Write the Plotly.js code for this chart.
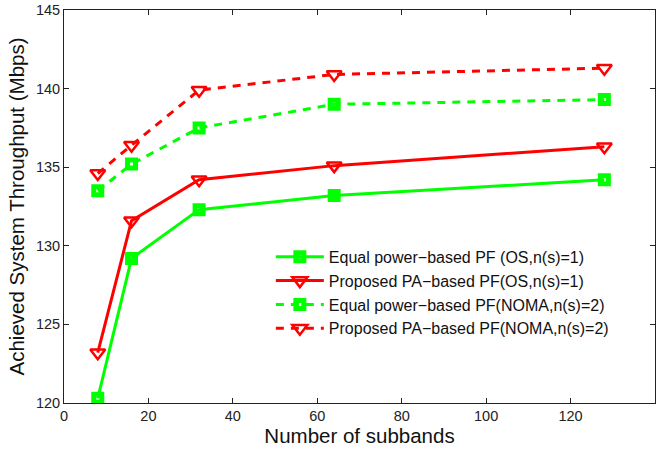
<!DOCTYPE html>
<html>
<head>
<meta charset="utf-8">
<script src="https://cdn.plot.ly/plotly-3.0.1.min.js"></script>
<style>html,body{margin:0;padding:0;background:#fff;}#chart{width:665px;height:451px;}</style>
</head>
<body>
<div id="chart"></div>
<script>
const subbands = [8, 16, 32, 64, 128];
const equalOS = [120.3, 129.2, 132.3, 133.2, 134.2];
const proposedOS = [123.2, 131.6, 134.2, 135.1, 136.3];
const equalNOMA = [133.5, 135.2, 137.5, 139.0, 139.3];
const proposedNOMA = [134.6, 136.4, 139.9, 140.9, 141.3];
const seriesNames = [
  'Equal power\u2212based PF (OS,n(s)=1)',
  'Proposed PA\u2212based PF(OS,n(s)=1)',
  'Equal power\u2212based PF(NOMA,n(s)=2)',
  'Proposed PA\u2212based PF(NOMA,n(s)=2)'
];
const xTicks = [0, 20, 40, 60, 80, 100, 120, 140];
const yTicks = [120, 125, 130, 135, 140, 145];

const green = '#00ff00', red = '#ff0000';
const sqMarker = {symbol: 'square-open', size: 8, color: green, line: {width: 5, color: green}};
const triMarker = {symbol: 'triangle-down-open', size: 13, color: red, line: {width: 2.5, color: red}};

const traces = [
  {x: subbands, y: equalOS, name: seriesNames[0], mode: 'lines+markers', line: {color: green, width: 3}, marker: sqMarker},
  {x: subbands, y: proposedOS, name: seriesNames[1], mode: 'lines+markers', line: {color: red, width: 3}, marker: triMarker},
  {x: subbands, y: equalNOMA, name: seriesNames[2], mode: 'lines+markers', line: {color: green, width: 3, dash: '8px,7px'}, marker: sqMarker},
  {x: subbands, y: proposedNOMA, name: seriesNames[3], mode: 'lines+markers', line: {color: red, width: 3, dash: '8px,7px'}, marker: triMarker}
];

const axisCommon = {
  showgrid: false, zeroline: false, showline: true, linecolor: '#222', linewidth: 1,
  mirror: 'ticks', ticks: 'inside', ticklen: 5, tickcolor: '#222', tickwidth: 1,
  tickfont: {family: 'Liberation Sans, Arial, sans-serif', size: 14.5, color: '#222'}
};

const layout = {
  width: 665, height: 451,
  margin: {l: 63.5, r: 10, t: 10, b: 48.3},
  paper_bgcolor: '#fff', plot_bgcolor: '#fff',
  showlegend: true,
  xaxis: Object.assign({}, axisCommon, {
    range: [0, 140], tickvals: xTicks, ticktext: xTicks.map(String),
    title: {text: 'Number of subbands', font: {family: 'Liberation Sans, Arial, sans-serif', size: 20.5, color: '#111'}, standoff: 3}
  }),
  yaxis: Object.assign({}, axisCommon, {
    range: [120, 145], tickvals: yTicks, ticktext: yTicks.map(String),
    title: {text: 'Achieved System Throughput (Mbps)', font: {family: 'Liberation Sans, Arial, sans-serif', size: 20.5, color: '#111'}, standoff: 5}
  }),
  legend: {
    x: 0.35, y: 0.415, xanchor: 'left', yanchor: 'top',
    bgcolor: 'rgba(255,255,255,0)', borderwidth: 0,
    font: {family: 'Liberation Sans, Arial, sans-serif', size: 16, color: '#111'},
    itemwidth: 48, tracegroupgap: 0
  }
};

Plotly.newPlot('chart', traces, layout, {displayModeBar: false, staticPlot: true});
</script>
</body>
</html>
